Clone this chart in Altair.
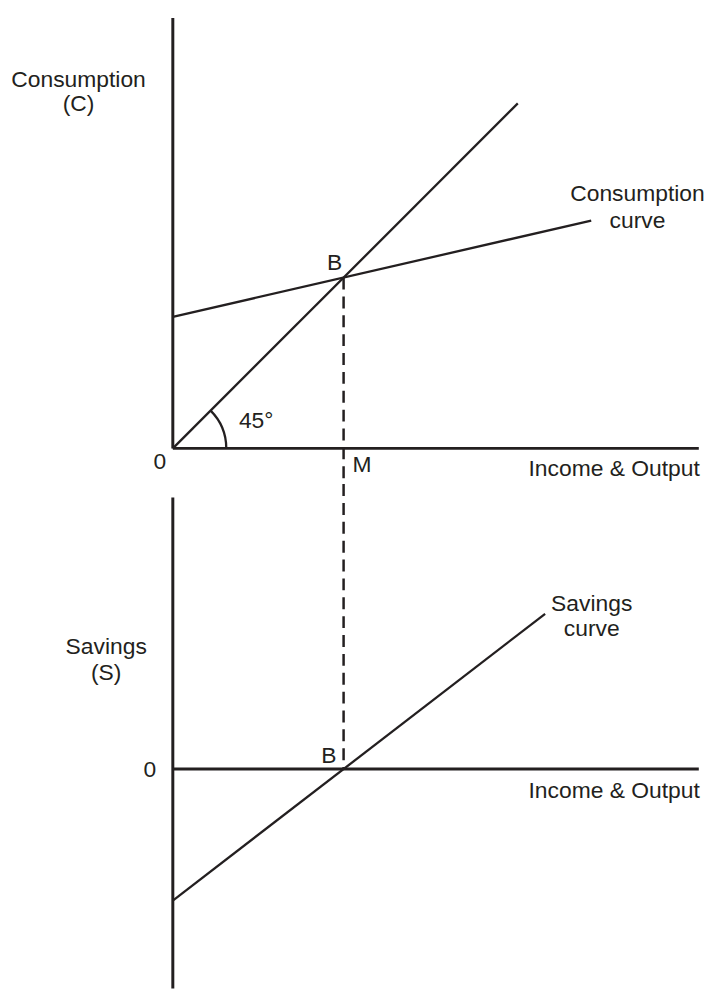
import math
import altair as alt
import pandas as pd

# ---------------- data (economic units) ----------------
# 45-degree reference line (C = Y)
line45_income = [0, 202]
line45_value = [0, 202]
# consumption function C = a + bY
cons_income = [0, 245]
cons_value = [77, 133.4]
# savings function S = Y - C
sav_income = [0, 218]
sav_value = [-77, 90.9]
# equilibrium point B (where C = Y, S = 0)
eq_income = 100
eq_value = 100
# extents of the drawn axes
top_axis_income_max = 308
top_axis_value_max = 252
bot_axis_income_max = 308
bot_axis_value_max = 159

# labels of the upper (consumption) panel
top_label_text = ["Consumption", "(C)", "Consumption", "curve", "B", "45°", "0", "M", "Income & Output"]
top_label_x = [-55.2, -55.2, 272.1, 272.1, 94.8, 48.8, -7.6, 105.2, 308.6]
top_label_y = [215.7, 201.7, 148.8, 133.1, 108.7, 16.0, -8.1, -9.9, -12.2]
top_label_align = ["center", "center", "center", "center", "center", "center", "center", "left", "right"]

# labels of the lower (savings) panel
bot_label_text = ["Savings", "(S)", "Savings", "curve", "0", "B", "Income & Output"]
bot_label_x = [-39.0, -39.0, 245.3, 245.3, -13.4, 91.3, 308.6]
bot_label_y = [71.5, 56.4, 96.5, 82.0, -0.6, 7.6, -12.8]
bot_label_align = ["center", "center", "center", "center", "center", "center", "right"]

# ---------------- layout ----------------
PX = 1.72          # pixels per unit, same on both axes (so the 45° line is 45°)
W = 697
TOP_H = 476
BOT_H = 508
ORIGIN_X = 166     # px from panel left to the income origin
TOP_ORIGIN_Y = 440
BOT_ORIGIN_Y = 287
INK = "#231f20"
FONT = "Liberation Sans"
FONT_SIZE = 23

x_dom = [-ORIGIN_X / PX, (W - ORIGIN_X) / PX]
top_y_dom = [-(TOP_H - TOP_ORIGIN_Y) / PX, TOP_ORIGIN_Y / PX]
bot_y_dom = [-(BOT_H - BOT_ORIGIN_Y) / PX, BOT_ORIGIN_Y / PX]


def xs(field="x"):
    return alt.X(f"{field}:Q", scale=alt.Scale(domain=x_dom, nice=False, zero=False), axis=None)


def ys(dom, field="y"):
    return alt.Y(f"{field}:Q", scale=alt.Scale(domain=dom, nice=False, zero=False), axis=None)


def text_layers(texts, xv, yv, aligns, dom):
    df = pd.DataFrame({"t": texts, "x": xv, "y": yv, "a": aligns})
    layers = []
    for a in ["left", "center", "right"]:
        sub = df[df["a"] == a]
        if len(sub) == 0:
            continue
        layers.append(
            alt.Chart(sub).mark_text(
                fontSize=FONT_SIZE, font=FONT, color=INK, align=a, baseline="middle"
            ).encode(x=xs(), y=ys(dom), text="t:N")
        )
    return layers


# ---------------- upper panel ----------------
top_axes = pd.DataFrame({
    "x": [0, 0], "x2": [0, top_axis_income_max],
    "y": [0, 0], "y2": [top_axis_value_max, 0],
})
top_curves = pd.DataFrame({
    "x": line45_income + cons_income,
    "y": line45_value + cons_value,
    "s": ["45", "45", "C", "C"],
})
top_dash = pd.DataFrame({"x": [eq_income], "y": [eq_value], "y2": [top_y_dom[0]]})
origin = pd.DataFrame({"x": [0], "y": [0]})

top = alt.layer(
    alt.Chart(top_axes).mark_rule(color=INK, strokeWidth=3).encode(
        x=xs(), x2="x2:Q", y=ys(top_y_dom), y2="y2:Q"),
    alt.Chart(top_curves).mark_line(color=INK, strokeWidth=2.3).encode(
        x=xs(), y=ys(top_y_dom), detail="s:N"),
    alt.Chart(top_dash).mark_rule(color=INK, strokeWidth=2.5, strokeDash=[12, 7]).encode(
        x=xs(), y=ys(top_y_dom), y2="y2:Q"),
    alt.Chart(origin).mark_arc(
        color=INK, radius=55, radius2=52.7, theta=math.pi / 4, theta2=math.pi / 2
    ).encode(x=xs(), y=ys(top_y_dom)),
    *text_layers(top_label_text, top_label_x, top_label_y, top_label_align, top_y_dom),
).properties(width=W, height=TOP_H)

# ---------------- lower panel ----------------
bot_axes = pd.DataFrame({
    "x": [0, 0], "x2": [0, bot_axis_income_max],
    "y": [bot_y_dom[0], 0], "y2": [bot_axis_value_max, 0],
})
bot_curve = pd.DataFrame({"x": sav_income, "y": sav_value})
bot_dash = pd.DataFrame({"x": [eq_income], "y": [bot_y_dom[1]], "y2": [0]})

bottom = alt.layer(
    alt.Chart(bot_axes).mark_rule(color=INK, strokeWidth=3).encode(
        x=xs(), x2="x2:Q", y=ys(bot_y_dom), y2="y2:Q"),
    alt.Chart(bot_curve).mark_line(color=INK, strokeWidth=2.3).encode(
        x=xs(), y=ys(bot_y_dom)),
    alt.Chart(bot_dash).mark_rule(color=INK, strokeWidth=2.5, strokeDash=[12, 7]).encode(
        x=xs(), y=ys(bot_y_dom), y2="y2:Q"),
    *text_layers(bot_label_text, bot_label_x, bot_label_y, bot_label_align, bot_y_dom),
).properties(width=W, height=BOT_H)

chart = alt.vconcat(top, bottom, spacing=0, bounds="flush").properties(
    padding=0, background="white"
).configure_view(strokeWidth=0)

chart.save("out.html", embed_options={"renderer": "svg", "actions": False})
